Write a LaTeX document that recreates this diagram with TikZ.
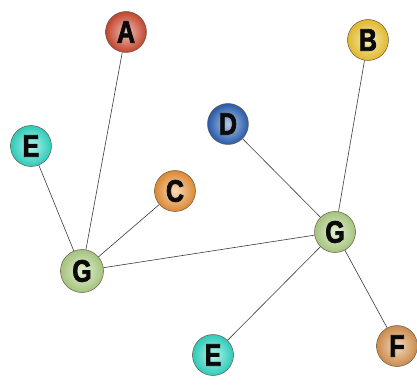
\documentclass[tikz,border=0pt]{standalone}
\usepackage{fontspec}
\usepackage{xcolor}
\usepackage{tikz}
\newfontfamily\ballfont[FakeStretch=0.8,FakeBold=2.5]{Liberation Sans}
\definecolor{ink}{HTML}{0A0A0A}
\definecolor{wire}{HTML}{3A3A3A}
\definecolor{rimc}{HTML}{6A5A4A}
\definecolor{red}{HTML}{D24A30}
\definecolor{yel}{HTML}{F2C830}
\definecolor{blu}{HTML}{2A62B8}
\definecolor{cya}{HTML}{30DCC8}
\definecolor{ora}{HTML}{EE9438}
\definecolor{grn}{HTML}{B2D488}
\definecolor{tan}{HTML}{DC9650}
\tikzset{
  ball/.style={circle, minimum size=41pt, inner sep=0pt, draw=rimc, line width=0.5pt,
    inner color=white!65!#1, outer color=#1!92!black, text=ink,
    font=\ballfont\bfseries\fontsize{31}{31}\selectfont},
  link/.style={draw=wire, line width=0.6pt},
}

\begin{document}
\begin{tikzpicture}[x=1pt,y=-1pt]
  \useasboundingbox (0,0) rectangle (417,387);

  \node[ball=red] (A) at (126,32) {A};
  \node[ball=yel] (B) at (368,40) {B};
  \node[ball=blu] (D) at (228,124) {D};
  \node[ball=cya] (E1) at (31,146) {E};
  \node[ball=ora] (C) at (175,191) {C};
  \node[ball=grn,minimum size=43pt] (G1) at (82,271) {G};
  \node[ball=grn] (G2) at (335,232) {G};
  \node[ball=cya] (E2) at (213,355) {E};
  \node[ball=tan] (F) at (397,346) {F};

  \draw[link] (A)--(G1);
  \draw[link] (E1)--(G1);
  \draw[link] (C)--(G1);
  \draw[link] (G1)--(G2);
  \draw[link] (D)--(G2);
  \draw[link] (B)--(G2);
  \draw[link] (G2)--(E2);
  \draw[link] (G2)--(F);
\end{tikzpicture}
\end{document}
